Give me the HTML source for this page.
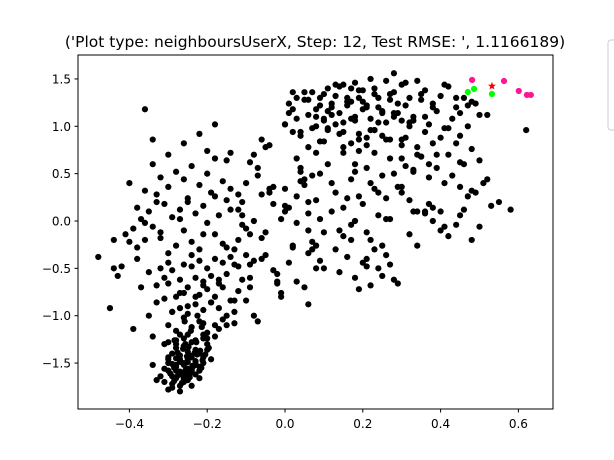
<!DOCTYPE html>
<html><head><meta charset="utf-8">
<style>
html,body{margin:0;padding:0;background:#fff;}
svg{display:block;font-family:"DejaVu Sans","Liberation Sans",sans-serif;}
</style></head>
<body>
<svg id="chart" width="614" height="460" xmlns="http://www.w3.org/2000/svg">
<text x="315" y="47" text-anchor="middle" font-size="15.5">('Plot type: neighboursUserX, Step: 12, Test RMSE: ', 1.1166189)</text>
<rect x="608" y="40" width="20" height="90" rx="3" fill="#fff" stroke="#ccc"/>
<g id="marks"></g>
<rect x="78" y="55" width="475" height="354" fill="none" stroke="#000" stroke-width="1"/>
<g id="xt"></g>
<g id="yt"></g>
</svg>
<script>
const xTicks=[-0.4,-0.2,0.0,0.2,0.4,0.6];
const xTickLabels=["−0.4","−0.2","0.0","0.2","0.4","0.6"];
const yTicks=[-1.5,-1.0,-0.5,0.0,0.5,1.0,1.5];
const yTickLabels=["−1.5","−1.0","−0.5","0.0","0.5","1.0","1.5"];
const blackX=[
-0.30,-0.29,-0.28,-0.27,-0.26,-0.25,-0.24,-0.23,-0.31,-0.30,-0.28,-0.27,-0.26,-0.25,-0.23,-0.22,-0.29,-0.28,-0.27,-0.26,-0.24,-0.23,-0.21,-0.30,-0.29,-0.27,-0.25,-0.24,-0.22,-0.28,-0.26,-0.25,-0.23,-0.21,-0.20,-0.32,-0.31,-0.29,-0.27,-0.26,-0.24,-0.22,-0.28,-0.27,-0.25,-0.24,-0.22,-0.20,-0.19,-0.30,-0.28,-0.26,-0.23,-0.21,-0.18,-0.33,-0.34,-0.30,-0.26,-0.24,
-0.30,-0.28,-0.26,-0.24,-0.22,-0.20,-0.18,-0.16,-0.29,-0.27,-0.25,-0.23,-0.21,-0.19,-0.17,-0.15,-0.13,-0.31,-0.28,-0.26,-0.22,-0.20,-0.18,-0.16,-0.14,-0.12,-0.33,-0.30,-0.27,-0.25,-0.23,-0.21,-0.19,-0.17,-0.15,-0.11,-0.09,-0.35,-0.32,-0.29,-0.26,-0.24,-0.22,-0.20,-0.18,-0.16,-0.14,-0.12,-0.10,-0.08,-0.34,-0.31,-0.28,-0.25,-0.21,-0.17,-0.13,-0.07,
-0.48,-0.45,-0.44,-0.42,-0.41,-0.40,-0.39,-0.38,-0.37,-0.36,-0.35,-0.34,-0.33,-0.32,-0.31,-0.30,-0.29,-0.28,-0.27,-0.26,-0.25,-0.24,-0.23,-0.22,-0.21,-0.20,-0.19,-0.18,-0.17,-0.16,-0.43,-0.40,-0.38,-0.36,-0.34,-0.32,-0.30,-0.28,-0.26,-0.24,-0.22,-0.20,-0.18,-0.16,-0.14,-0.37,-0.35,-0.33,-0.31,-0.29,-0.27,-0.25,-0.23,-0.21,-0.19,-0.17,-0.15,-0.13,-0.36,-0.34,-0.30,-0.26,-0.22,-0.18,-0.14,-0.38,-0.32,-0.25,-0.20,-0.15,-0.44,-0.39,
-0.15,-0.13,-0.11,-0.09,-0.07,-0.05,-0.03,-0.01,0.01,0.03,0.05,-0.14,-0.12,-0.10,-0.08,-0.06,-0.04,-0.02,0.00,0.02,0.04,0.06,0.08,-0.13,-0.11,-0.09,-0.07,-0.05,-0.03,-0.01,0.01,0.03,0.05,0.07,0.09,-0.12,-0.10,-0.08,-0.06,-0.04,-0.02,0.00,0.02,0.04,0.06,0.08,0.10,-0.11,-0.09,-0.05,-0.01,0.03,0.07,0.11,-0.10,-0.06,-0.02,0.02,0.06,0.10,-0.08,-0.04,0.00,0.04,0.08,
0.00,0.02,0.04,0.06,0.08,0.10,0.12,0.14,0.16,0.18,0.20,0.22,0.24,0.26,0.28,0.01,0.03,0.05,0.07,0.09,0.11,0.13,0.15,0.17,0.19,0.21,0.23,0.25,0.27,0.29,0.31,0.04,0.06,0.08,0.10,0.12,0.14,0.16,0.18,0.20,0.22,0.24,0.26,0.28,0.30,0.32,0.34,0.02,0.07,0.11,0.15,0.19,0.23,0.27,0.31,0.35,0.05,0.09,0.13,0.17,0.21,0.25,0.29,0.33,0.37,
0.12,0.14,0.16,0.18,0.20,0.22,0.24,0.13,0.15,0.17,0.19,0.21,0.23,0.25,0.14,0.16,0.18,0.20,0.22,0.24,0.26,0.28,0.17,0.19,0.21,0.23,0.25,0.27,0.29,0.10,0.08,0.06,0.26,0.30,0.32,0.34,
0.28,0.30,0.32,0.34,0.36,0.38,0.40,0.42,0.44,0.46,0.48,0.50,0.29,0.31,0.33,0.35,0.37,0.39,0.41,0.43,0.45,0.47,0.49,0.52,0.30,0.32,0.34,0.36,0.38,0.40,0.42,0.44,0.46,0.48,0.50,0.31,0.33,0.35,0.37,0.39,0.41,0.43,0.45,0.47,0.49,0.51,0.53,0.32,0.36,0.40,0.44,0.48,0.38,0.42,0.46,0.50,0.55,0.58,0.62,0.45,0.52,0.36,0.40,0.30,0.34,0.38,0.28,0.26,0.22,0.18,0.14
];
const blackY=[
-1.78,-1.72,-1.66,-1.74,-1.60,-1.68,-1.56,-1.62,-1.70,-1.58,-1.54,-1.62,-1.50,-1.56,-1.48,-1.58,-1.64,-1.52,-1.46,-1.70,-1.44,-1.52,-1.50,-1.46,-1.40,-1.42,-1.38,-1.60,-1.40,-1.34,-1.32,-1.46,-1.36,-1.44,-1.30,-1.64,-1.56,-1.76,-1.80,-1.66,-1.74,-1.66,-1.58,-1.48,-1.62,-1.28,-1.54,-1.36,-1.46,-1.28,-1.30,-1.24,-1.26,-1.20,-1.22,-1.68,-1.52,-1.50,-1.52,-1.58,
-1.10,-1.16,-1.02,-1.12,-1.06,-1.18,-1.10,-1.04,-0.96,-0.92,-0.98,-0.88,-0.94,-0.86,-0.92,-1.00,-0.96,-0.82,-0.80,-0.76,-0.78,-0.72,-0.80,-0.70,-0.84,-0.74,-0.68,-0.66,-0.62,-0.70,-0.60,-0.64,-0.58,-0.66,-0.56,-0.62,-0.70,-0.54,-0.50,-0.52,-0.46,-0.48,-0.42,-0.50,-0.40,-0.44,-0.38,-0.48,-0.36,-0.42,-1.22,-1.30,-1.26,-1.20,-1.24,-1.14,-1.08,-1.06,
-0.38,-0.92,-0.20,-0.48,-0.14,-0.22,-0.08,-0.40,0.02,-0.20,0.10,-0.06,0.28,-0.12,0.18,-0.34,0.04,-0.26,0.12,-0.10,0.24,-0.22,0.08,-0.30,0.16,-0.02,0.30,-0.14,0.06,-0.24,-0.58,0.40,0.14,0.32,0.60,0.46,0.36,0.52,0.44,0.58,0.38,0.50,0.66,0.42,0.34,-0.70,-1.00,-0.86,-0.60,-0.96,-0.76,-0.90,-0.80,-0.68,-0.86,-0.62,-1.10,-0.84,1.18,0.86,0.70,0.82,0.92,1.02,0.72,-0.28,-0.18,0.20,0.74,0.22,-0.50,-1.14,
0.64,-0.30,0.20,-0.60,0.48,-0.12,0.36,0.02,-0.44,0.26,-0.70,0.12,-0.20,0.40,0.00,-0.40,0.30,-0.56,0.10,-0.26,0.52,-0.10,0.22,-0.46,0.06,-0.14,0.56,-0.36,0.18,-0.80,0.14,-0.02,0.44,-0.30,0.02,0.28,-0.08,0.70,-0.18,0.34,-0.64,0.16,-0.28,0.42,0.08,-0.50,-0.12,-0.04,0.62,0.78,-0.76,0.66,-0.22,0.96,-0.84,0.86,-0.66,0.94,-0.34,1.08,-1.00,0.80,1.02,0.56,0.72,
1.02,1.18,0.90,1.28,1.10,1.34,1.20,1.42,1.26,1.46,1.38,1.50,1.30,1.48,1.56,1.24,1.08,1.36,0.98,1.30,1.16,1.44,1.04,1.40,1.30,1.22,1.40,1.14,1.34,1.24,1.46,0.94,0.78,1.00,0.84,1.12,0.92,1.22,1.06,1.18,0.96,1.04,0.86,1.10,0.80,1.00,0.70,1.36,0.48,0.60,0.72,0.86,0.96,0.66,0.88,0.68,0.38,0.50,0.30,0.44,0.56,0.48,0.36,0.54,0.60,
0.10,-0.10,0.24,0.00,0.18,-0.20,0.06,-0.30,0.14,-0.04,0.26,-0.12,0.34,-0.26,-0.54,-0.38,-0.60,-0.44,-0.68,-0.50,-0.36,-0.62,-0.20,-0.72,-0.40,-0.30,-0.58,-0.46,-0.66,-0.50,-0.26,-0.88,0.02,0.30,-0.14,0.10,
1.36,1.44,1.30,1.48,1.38,1.24,1.32,1.42,1.20,1.30,1.26,1.12,1.14,1.22,1.10,1.28,1.02,1.16,0.98,1.08,0.90,1.00,1.24,1.12,0.86,1.04,0.78,0.94,0.82,0.88,0.70,0.82,0.60,0.76,0.64,0.58,0.52,0.68,0.46,0.56,0.40,0.48,0.36,0.26,0.30,0.40,0.16,0.22,0.08,0.10,-0.04,-0.20,0.00,-0.16,0.12,-0.06,0.20,0.12,0.96,1.14,0.44,0.10,-0.10,0.36,-0.26,0.14,0.50,0.24,0.40,0.60
];
const extraX=[
-0.285,-0.275,-0.265,-0.255,-0.245,-0.235,-0.295,-0.285,-0.270,-0.260,-0.250,-0.240,-0.230,-0.215,-0.280,-0.268,-0.252,-0.238,-0.226,-0.212,-0.290,-0.276,-0.262,-0.248,-0.232,-0.218,-0.205,-0.300,-0.284,-0.270,-0.256,-0.242,-0.228,-0.214,-0.200,-0.196,-0.210,-0.225,-0.244,-0.258,
0.05,0.07,0.09,0.11,0.13,0.15,0.17,0.19,0.21,0.23,0.25,0.27,0.06,0.08,0.10,0.12,0.14,0.16,0.18,0.20,0.22,0.24,0.26,0.28,0.30,0.11,0.13,0.15,0.17,0.19,0.21,0.23,0.25,0.27,0.15,0.17,0.19,0.21,0.23,0.09,0.03,0.01,
-0.36,-0.33,-0.30,-0.27,-0.24,-0.21,-0.18,-0.15,-0.12,-0.09,-0.06,-0.03,0.00,0.03,0.06,0.09,0.12,0.15,0.18,0.21,0.24,0.27,0.30,0.33,0.36,0.39,0.42,0.45,0.48,0.35,0.38,0.41,0.44,0.47,0.33,0.37,0.41,0.45
];
const extraY=[
-1.69,-1.63,-1.71,-1.57,-1.65,-1.53,-1.61,-1.55,-1.59,-1.67,-1.49,-1.57,-1.51,-1.55,-1.45,-1.49,-1.43,-1.53,-1.41,-1.47,-1.51,-1.39,-1.35,-1.33,-1.39,-1.37,-1.41,-1.44,-1.26,-1.20,-1.30,-1.16,-1.28,-1.12,-1.24,-1.34,-1.08,-1.00,-1.42,-1.06,
1.28,1.36,1.22,1.40,1.32,1.44,1.26,1.38,1.20,1.34,1.16,1.28,1.12,1.18,1.06,1.24,1.14,1.30,1.10,1.26,1.08,1.20,1.04,1.14,1.06,0.98,1.02,0.94,1.08,0.92,0.88,0.96,0.90,0.86,0.78,0.82,0.74,0.80,0.72,0.84,1.30,1.14,
-0.02,0.20,-0.44,0.02,-0.36,-0.14,0.26,-0.28,0.12,-0.46,0.28,-0.52,0.34,-0.64,0.20,-0.42,0.40,-0.16,0.52,-0.48,0.30,0.02,0.66,0.10,1.10,0.70,0.98,0.62,0.32,1.34,1.20,1.44,1.30,1.22,1.06,0.18,-0.06,0.06
];
const pinkX=[0.481,0.563,0.601,0.622,0.632];
const pinkY=[1.489,1.478,1.373,1.331,1.331];
const greenX=[0.470,0.486,0.532];
const greenY=[1.362,1.394,1.341];
const starX=[0.532];
const starY=[1.425];

const NS="http://www.w3.org/2000/svg";
const sx=v=>285+389*v;
const sy=v=>221-94.7*v;
const marks=document.getElementById('marks');
function dot(x,y,fill,name){
  if(x===undefined||y===undefined) return;
  const c=document.createElementNS(NS,'circle');
  c.setAttribute('cx',sx(x));c.setAttribute('cy',sy(y));c.setAttribute('r',3.1);c.setAttribute('fill',fill);
  
  
  marks.appendChild(c);
}
const nB=Math.min(blackX.length,blackY.length);
for(let i=0;i<nB;i++) dot(blackX[i],blackY[i],'#000','data-point');
const nE=Math.min(extraX.length,extraY.length);
for(let i=0;i<nE;i++) dot(extraX[i],extraY[i],'#000','data-point');
for(let i=0;i<pinkX.length;i++) dot(pinkX[i],pinkY[i],'#ff1493','neighbour-point');
for(let i=0;i<greenX.length;i++) dot(greenX[i],greenY[i],'#00ff00','recommended-point');
for(let i=0;i<starX.length;i++){
  const cx=sx(starX[i]),cy=sy(starY[i]);let p='';
  for(let k=0;k<10;k++){const r=k%2?1.8:4.2;const a=-Math.PI/2+k*Math.PI/5;p+=(cx+r*Math.cos(a)).toFixed(1)+','+(cy+r*Math.sin(a)).toFixed(1)+' ';}
  const s=document.createElementNS(NS,'polygon');s.setAttribute('points',p);s.setAttribute('fill','#ff0000');
  
  
  marks.appendChild(s);
}
const xt=document.getElementById('xt'),yt=document.getElementById('yt');
xTicks.forEach((v,i)=>{
  const l=document.createElementNS(NS,'line');l.setAttribute('x1',sx(v));l.setAttribute('x2',sx(v));l.setAttribute('y1',409);l.setAttribute('y2',412.5);l.setAttribute('stroke','#000');
  
  
  xt.appendChild(l);
  const t=document.createElementNS(NS,'text');t.setAttribute('x',sx(v));t.setAttribute('y',428);t.setAttribute('text-anchor','middle');t.setAttribute('font-size','12');t.textContent=xTickLabels[i];
  
  
  xt.appendChild(t);
});
yTicks.forEach((v,i)=>{
  const l=document.createElementNS(NS,'line');l.setAttribute('x1',74.5);l.setAttribute('x2',78);l.setAttribute('y1',sy(v));l.setAttribute('y2',sy(v));l.setAttribute('stroke','#000');
  
  
  yt.appendChild(l);
  const t=document.createElementNS(NS,'text');t.setAttribute('x',71);t.setAttribute('y',sy(v)+4.5);t.setAttribute('text-anchor','end');t.setAttribute('font-size','12');t.textContent=yTickLabels[i];
  
  
  yt.appendChild(t);
});
</script>
</body></html>
